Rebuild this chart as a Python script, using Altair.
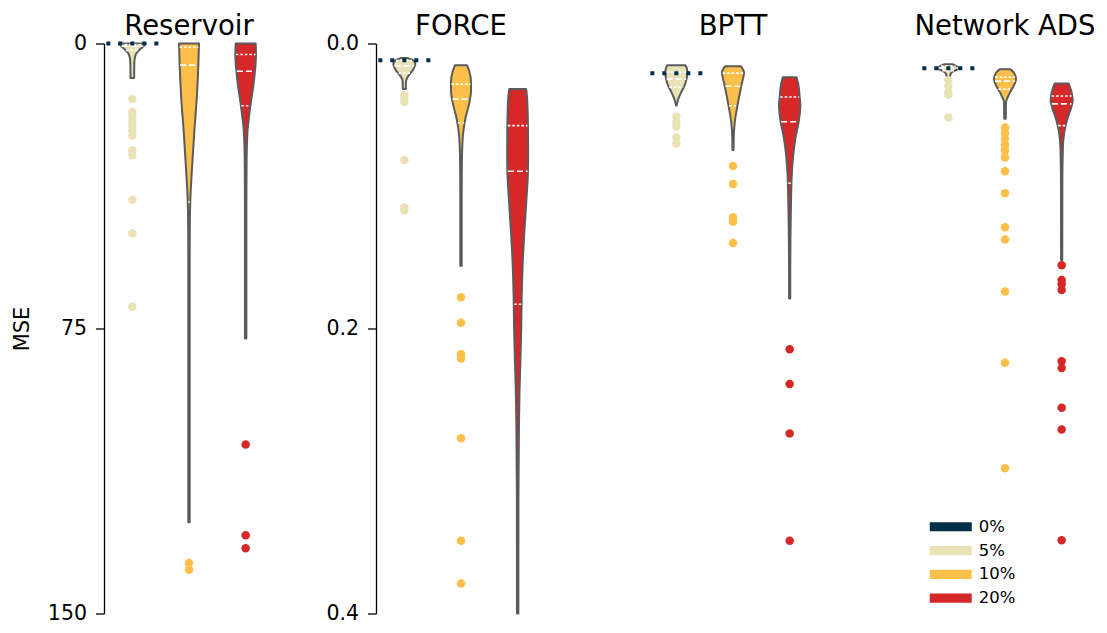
import altair as alt
import numpy as np
import pandas as pd

panels = ["Reservoir", "FORCE", "BPTT", "Network ADS"]
levels = ["0%", "5%", "10%", "20%"]
level_colors = ["#003049", "#eae2b7", "#fcbf49", "#d62828"]

# MSE with 0% noise (all runs identical -> drawn as a dotted line)
zero_mse = [0.0, 0.0118, 0.0208, 0.0174]

# violin outlines: MSE values and half-width readings (px) along each violin
reservoir_violins = {
    "5%": ([0, 0.5, 1.0, 1.6, 2.4, 3.4, 5, 9.1], [14.5, 13, 11, 8.5, 5.5, 3.8, 3, 2.8]),
    "10%": ([0, 6, 14.6, 23.2, 32, 40.6, 49, 60, 126], [11, 10.3, 8.7, 6.3, 4.2, 2.4, 1.8, 1.7, 1.7]),
    "20%": ([0, 3, 7.3, 11, 14.6, 19, 23.2, 32, 45, 77.6], [11, 11.3, 10.3, 8.7, 6.7, 4.5, 2.8, 1.9, 1.7, 1.7]),
}
force_violins = {
    "5%": ([0.0101, 0.0115, 0.013, 0.0146, 0.018, 0.0205, 0.0227, 0.025, 0.027, 0.032],
           [4, 9, 11.5, 12, 10, 7.5, 5, 3.2, 2.6, 2.5]),
    "10%": ([0.0153, 0.020, 0.027, 0.033, 0.039, 0.045, 0.0507, 0.0562, 0.0618, 0.0736, 0.09, 0.11, 0.156],
            [7, 9.5, 11, 11, 10, 8.2, 6, 4.5, 3.3, 2.2, 1.8, 1.7, 1.7]),
    "20%": ([0.032, 0.039, 0.0576, 0.075, 0.0896, 0.11, 0.131, 0.155, 0.178, 0.199, 0.2215, 0.245, 0.268, 0.315, 0.36, 0.4],
            [9.5, 10.5, 11.3, 11.5, 11.3, 9.7, 7.8, 6, 5, 4.6, 3.8, 2.8, 2.3, 1.8, 1.7, 1.7]),
}
bptt_violins = {
    "5%": ([0.0153, 0.0175, 0.0204, 0.025, 0.0296, 0.0343, 0.0389, 0.0435],
           [10, 11.5, 12, 11.2, 9.2, 5.8, 3, 1.3]),
    "10%": ([0.016, 0.0204, 0.0296, 0.0435, 0.055, 0.0667, 0.0748],
            [9, 12, 9.3, 5.5, 2.8, 1.7, 1.6]),
    "20%": ([0.0236, 0.028, 0.0377, 0.0435, 0.055, 0.0667, 0.078, 0.0898, 0.113, 0.136, 0.159, 0.179],
            [7.8, 9.5, 11, 11.7, 10, 6.7, 4.6, 3.3, 2.3, 1.8, 1.6, 1.6]),
}
ads_violins = {
    "5%": ([0.0146, 0.016, 0.0174, 0.019, 0.021, 0.0236], [5, 9.5, 11.5, 7.5, 3.5, 2.5]),
    "10%": ([0.018, 0.0205, 0.025, 0.0285, 0.032, 0.035, 0.0377, 0.041, 0.0528],
            [6, 10, 12, 10.5, 8, 5.5, 3.8, 2, 1.8]),
    "20%": ([0.028, 0.0354, 0.040, 0.045, 0.0505, 0.056, 0.062, 0.0736, 0.0965, 0.152],
            [8, 11.3, 12, 10.5, 7.8, 5.5, 3.7, 2.2, 1.7, 1.6]),
}

# quartiles (Q1, median, Q3)
reservoir_quartiles = {"5%": [0.3, 0.7, 1.8], "10%": [1.0, 5.7, 41.7], "20%": [2.9, 7.3, 16.4]}
force_quartiles = {"5%": [0.012, 0.0157, 0.0208], "10%": [0.0285, 0.039, 0.0556], "20%": [0.0576, 0.0896, 0.183]}
bptt_quartiles = {"5%": [0.0201, 0.025, 0.0306], "10%": [0.0208, 0.030, 0.0437], "20%": [0.0375, 0.0549, 0.098]}
ads_quartiles = {"5%": [0.0158, 0.0172, 0.019], "10%": [0.0236, 0.0264, 0.032], "20%": [0.0368, 0.0424, 0.0576]}

# outliers
reservoir_outliers = {
    "5%": [14.6, 18.0, 19.0, 20.3, 21.6, 22.9, 24.2, 28.1, 29.4, 41.1, 50.0, 69.3],
    "10%": [136.7, 138.5],
    "20%": [105.5, 129.4, 132.8],
}
force_outliers = {
    "5%": [0.036, 0.038, 0.041, 0.082, 0.115, 0.117],
    "10%": [0.178, 0.196, 0.218, 0.221, 0.277, 0.349, 0.379],
    "20%": [],
}
bptt_outliers = {
    "5%": [0.0514, 0.0549, 0.0583, 0.066, 0.0701],
    "10%": [0.086, 0.0986, 0.122, 0.125, 0.140],
    "20%": [0.2146, 0.239, 0.2736, 0.349],
}
ads_outliers = {
    "5%": [0.0257, 0.0299, 0.034, 0.036, 0.052],
    "10%": [0.059, 0.063, 0.067, 0.071, 0.075, 0.080, 0.0896, 0.105, 0.129, 0.1375, 0.174, 0.224, 0.298],
    "20%": [0.1556, 0.166, 0.169, 0.173, 0.2229, 0.2278, 0.2556, 0.2708, 0.3486],
}

violins = dict(zip(panels, [reservoir_violins, force_violins, bptt_violins, ads_violins]))
quartiles = dict(zip(panels, [reservoir_quartiles, force_quartiles, bptt_quartiles, ads_quartiles]))
outliers = dict(zip(panels, [reservoir_outliers, force_outliers, bptt_outliers, ads_outliers]))

# ---- layout helpers ----
PANEL_W = 170
PANEL_H = 570
X_DOMAIN = [0.5, 3.5]
PX = PANEL_W / (X_DOMAIN[1] - X_DOMAIN[0])  # px per category slot
slot = {"5%": 1, "10%": 2, "20%": 3}
GREY = "#5b5b5b"
FONT = "DejaVu Sans"

vrows, qrows, orows, zrows = [], [], [], []
for p in panels:
    for lev, (vals, wids) in violins[p].items():
        c = slot[lev]
        for k, (v, w) in enumerate(zip(vals, wids)):
            hw = max(w - 1.0, 0.3) / PX
            vrows.append(dict(panel=p, level=lev, value=v, xl=c - hw, xr=c + hw, k=k))
        for j, q in enumerate(quartiles[p][lev]):
            w = float(np.interp(q, vals, wids))
            hw = max(w - 1.5, 0.3) / PX
            qrows.append(dict(panel=p, level=lev, value=q, xl=c - hw, xr=c + hw,
                              kind="median" if j == 1 else "quart"))
        for o in outliers[p][lev]:
            orows.append(dict(panel=p, level=lev, value=o, x=float(c)))
for p, z in zip(panels, zero_mse):
    zrows.append(dict(panel=p, level="0%", value=z, xl=1 - 26 / PX, xr=1 + 26 / PX))

vdf = pd.DataFrame(vrows)
qdf = pd.DataFrame(qrows)
odf = pd.DataFrame(orows)
zdf = pd.DataFrame(zrows)

cscale = alt.Scale(domain=levels, range=level_colors)
legend = alt.Legend(
    title=None, orient="none", legendX=838.5, legendY=475,
    symbolType="M-5,-1.1H5V1.1H-5Z", symbolSize=70.6, symbolStrokeWidth=0,
    symbolOpacity=1, labelOffset=19.8, labelFontSize=16.5, labelFont=FONT,
    labelColor="black", rowPadding=6.8,
)
xscale = alt.Scale(domain=X_DOMAIN, nice=False, zero=False)


def make_panel(i, p):
    if p == "Reservoir":
        ysc = alt.Scale(domain=[0, 150], reverse=True, nice=False, zero=False)
        yax = alt.Axis(values=[0, 75, 150], format="d", title="MSE")
    else:
        ysc = alt.Scale(domain=[0, 0.4], reverse=True, nice=False, zero=False)
        yax = alt.Axis(values=[0, 0.2, 0.4], format=".1f", title=None)
    common = dict(tickSize=8.5, labelPadding=9, domainColor="black", tickColor="black",
                  domainWidth=1.3, tickWidth=1.3, labelFontSize=20.5, labelFont=FONT,
                  labelColor="black", titleFontSize=21, titleFont=FONT, titleColor="black",
                  titleFontWeight="normal", titlePadding=10, minExtent=62, maxExtent=62,
                  grid=False)
    for k, v in common.items():
        setattr(yax, k, v)
    if i >= 2:
        yax.labelOpacity = 0
        yax.tickOpacity = 0
        yax.domainOpacity = 0

    y = alt.Y("value:Q", scale=ysc, axis=yax)
    xl = alt.X("xl:Q", scale=xscale, axis=None)

    area = alt.Chart(vdf[vdf.panel == p]).mark_area(
        orient="horizontal", interpolate="monotone", stroke=GREY, strokeWidth=2,
        strokeJoin="round", opacity=1, fillOpacity=1,
    ).encode(y=y, x=xl, x2="xr:Q",
             fill=alt.Fill("level:N", scale=cscale, legend=legend),
             detail="level:N")
    qd = qdf[qdf.panel == p]
    med = alt.Chart(qd[qd.kind == "median"]).mark_rule(
        color="white", strokeWidth=1.6, strokeDash=[6, 3]).encode(y=y, x=xl, x2="xr:Q")
    qua = alt.Chart(qd[qd.kind == "quart"]).mark_rule(
        color="white", strokeWidth=1.6, strokeDash=[2.5, 2]).encode(y=y, x=xl, x2="xr:Q")
    pts = alt.Chart(odf[odf.panel == p]).mark_circle(size=72, opacity=1).encode(
        y=y, x=alt.X("x:Q", scale=xscale, axis=None),
        fill=alt.Fill("level:N", scale=cscale, legend=None))
    zero = alt.Chart(zdf[zdf.panel == p]).mark_rule(
        color="#003049", strokeWidth=4, strokeDash=[4, 8], strokeCap="butt").encode(
        y=y, x=xl, x2="xr:Q")
    return alt.layer(area, med, qua, pts, zero).properties(
        width=PANEL_W, height=PANEL_H,
        title=alt.TitleParams(p, fontSize=27.5, font=FONT, fontWeight="normal",
                              color="black", anchor="middle", offset=-6.5),
    )


chart = alt.hconcat(*[make_panel(i, p) for i, p in enumerate(panels)], spacing=40).properties(
    padding={"left": 3, "top": 4.5, "right": 0, "bottom": 0}
).configure_view(stroke=None)

chart.save("out.html", embed_options={"renderer": "svg", "actions": False})
